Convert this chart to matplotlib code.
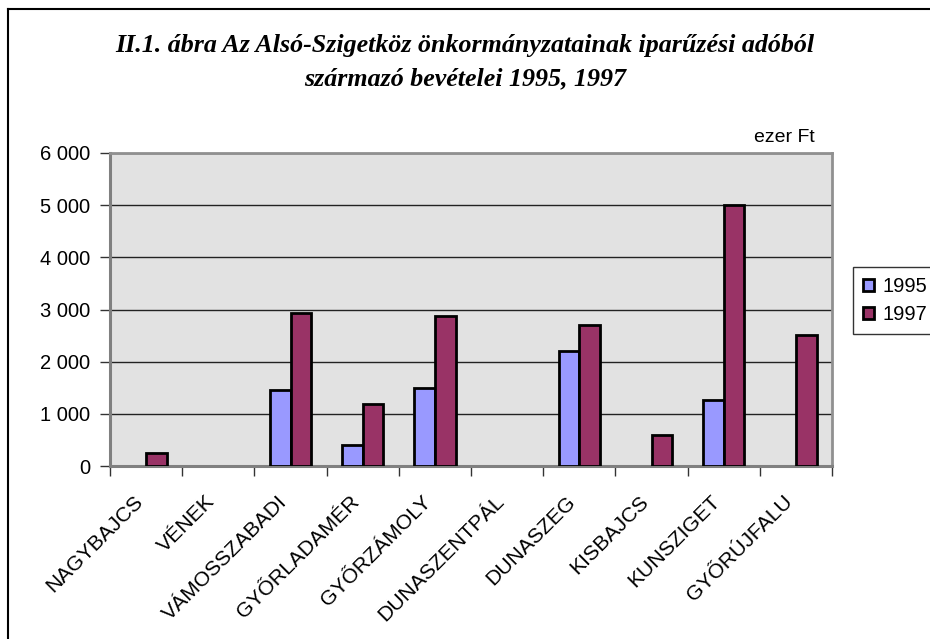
import matplotlib
matplotlib.use("Agg")
import matplotlib.pyplot as plt
import numpy as np
from matplotlib.lines import Line2D
from matplotlib.transforms import ScaledTranslation

categories = ["NAGYBAJCS", "VÉNEK", "VÁMOSSZABADI", "GYŐRLADAMÉR", "GYŐRZÁMOLY",
              "DUNASZENTPÁL", "DUNASZEG", "KISBAJCS", "KUNSZIGET", "GYŐRÚJFALU"]
v1995 = [0, 0, 1460, 400, 1500, 0, 2200, 0, 1260, 0]
v1997 = [240, 0, 2940, 1190, 2870, 0, 2700, 590, 5000, 2520]
yticks = [0, 1000, 2000, 3000, 4000, 5000, 6000]
ytick_labels = ["0", "1 000", "2 000", "3 000", "4 000", "5 000", "6 000"]
series_labels = ["1995", "1997"]
title_lines = ["II.1. ábra Az Alsó-Szigetköz önkormányzatainak iparűzési adóból",
               "származó bevételei 1995, 1997"]
unit_label = "ezer Ft"

W, H = 930, 639
fig = plt.figure(figsize=(W / 100, H / 100), dpi=100)
fig.patch.set_facecolor("white")

def fx(px): return px / W
def fy(py): return 1 - py / H

L, R, T, B = 110, 832, 153, 466
ax = fig.add_axes([fx(L), fy(B), fx(R) - fx(L), fy(T) - fy(B)])
ax.set_facecolor("#E2E2E2")

x = np.arange(len(categories))
bw = 1 / 3.5
c95, c97 = "#9999FF", "#993366"
b1 = ax.bar(x - bw / 2, v1995, width=bw, color=c95, edgecolor="black", linewidth=2.0, zorder=3)
b2 = ax.bar(x + bw / 2, v1997, width=bw, color=c97, edgecolor="black", linewidth=2.0, zorder=3)
for bars, vals in ((b1, v1995), (b2, v1997)):
    for b, v in zip(bars, vals):
        if v == 0:
            b.set_visible(False)

ax.set_xlim(-0.5, len(categories) - 0.5)
ax.set_ylim(0, 6000)
ax.set_yticks(yticks)
ax.set_yticklabels(ytick_labels, fontsize=14.5, family="Liberation Sans")
ax.yaxis.grid(True, color="#222222", linewidth=1.0, zorder=1)
ax.set_axisbelow(True)
ax.tick_params(axis="y", direction="out", length=7, width=1, color="#333333", pad=7)

ax.set_xticks(x)
ax.set_xticklabels([])
ax.tick_params(axis="x", which="major", length=0)
ax.set_xticks(np.arange(-0.5, len(categories)), minor=True)
ax.tick_params(axis="x", which="minor", direction="out", length=7, width=1, color="#333333")

off = ScaledTranslation(-13 / 100, -26 / 100, fig.dpi_scale_trans)
for xi, lab in zip(x, categories):
    ax.text(xi, 0, lab, transform=ax.get_xaxis_transform() + off, rotation=45,
            rotation_mode="anchor", ha="right", va="top", fontsize=15.2,
            family="Liberation Sans")

for s in ["left", "bottom"]:
    ax.spines[s].set_color("#808080")
    ax.spines[s].set_linewidth(2.2)
for s in ["top", "right"]:
    ax.spines[s].set_color("#909090")
    ax.spines[s].set_linewidth(2.0)

fig.text(0.5, fy(52), title_lines[0], ha="center", va="baseline", fontsize=18.7,
         family="Liberation Serif", weight="bold", style="italic")
fig.text(0.5, fy(85), title_lines[1], ha="center", va="baseline", fontsize=18.7,
         family="Liberation Serif", weight="bold", style="italic")
fig.text(fx(815), fy(137), unit_label, ha="right", va="center", fontsize=14,
         family="Liberation Sans")

handles = [plt.Rectangle((0, 0), 1, 1, facecolor=c95, edgecolor="black", linewidth=2.0),
           plt.Rectangle((0, 0), 1, 1, facecolor=c97, edgecolor="black", linewidth=2.0)]
leg = fig.legend(handles, series_labels, loc="upper left", bbox_to_anchor=(fx(853), fy(267)),
                 prop={"family": "Liberation Sans", "size": 14.5}, frameon=True, fancybox=False,
                 handlelength=0.55, handleheight=0.55, handletextpad=0.4, borderpad=0.5,
                 labelspacing=0.45, borderaxespad=0)
leg.get_frame().set_edgecolor("black")
leg.get_frame().set_linewidth(1.0)

fig.add_artist(Line2D([fx(8), fx(8)], [fy(9), 0], color="black", linewidth=1.5))
fig.add_artist(Line2D([fx(8), 1], [fy(9), fy(9)], color="black", linewidth=1.5))

fig.savefig("out.png", dpi=100)
